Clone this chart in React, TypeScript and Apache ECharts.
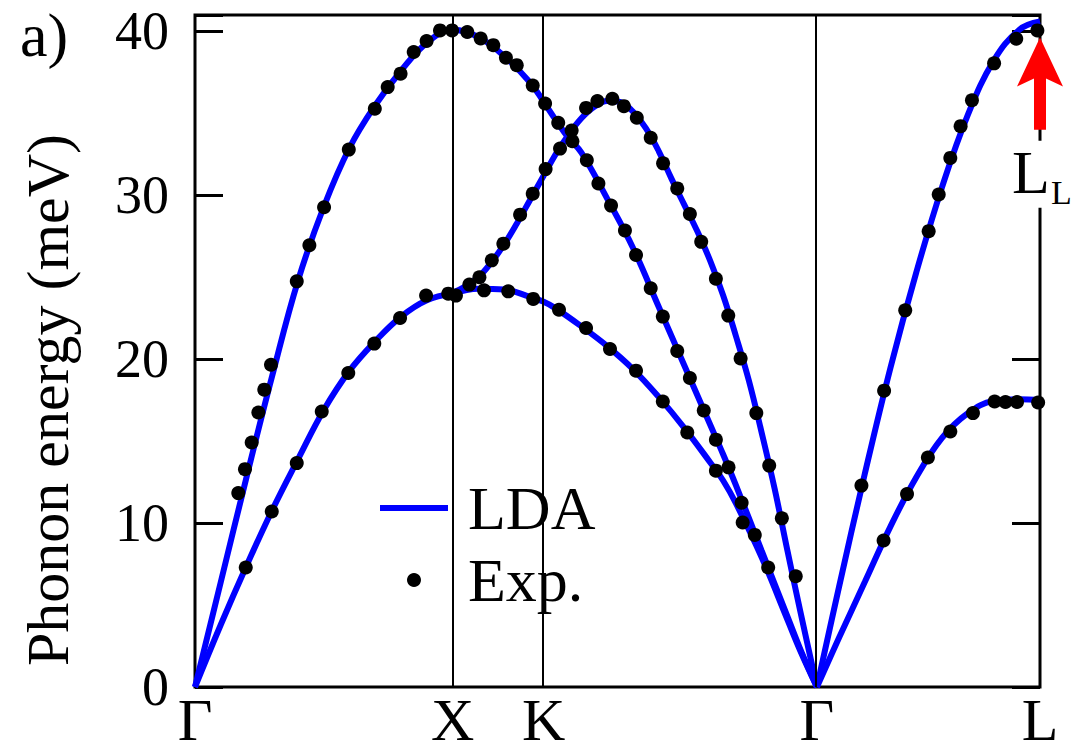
import React, { useEffect, useRef } from "react";
import * as echarts from "echarts";

// High-symmetry points along the path (path length, Γ–X = 1)
const symPoints = [0, 1, 1.3536, 2.4142, 3.2802];
const symLabels = ["Γ", "X", "K", "Γ", "L"];
const yTickValues = [0, 10, 20, 30, 40];

// LDA phonon branches [q, E (meV)]
const ldaLA = [
  [0, 0], [0.1, 6.4], [0.2, 12.8], [0.3, 19.0], [0.4, 24.8], [0.5, 29.3], [0.6, 32.9],
  [0.7, 35.5], [0.8, 37.6], [0.9, 39.3], [1.0, 40.1], [1.1, 39.65], [1.2, 38.5],
  [1.3, 36.9], [1.3536, 35.7], [1.4, 34.6], [1.45, 33.5], [1.5, 32.6], [1.6, 29.8],
  [1.7, 26.8], [1.8, 23.2], [1.9, 19.6], [2.0, 16.0], [2.05, 14.2], [2.1, 12.3],
  [2.2, 8.3], [2.3, 4.3], [2.35, 2.3], [2.4142, 0],
];
const ldaTAGX = [
  [0, 0], [0.1, 3.8], [0.2, 7.4], [0.3, 10.8], [0.4, 13.9], [0.5, 16.9], [0.6, 19.3],
  [0.7, 21.1], [0.8, 22.6], [0.9, 23.6], [1.0, 24.0],
];
const ldaTAUpper = [
  [1.0, 24.05], [1.05, 24.45], [1.1, 25.0], [1.15, 25.9], [1.2, 27.0], [1.25, 28.3],
  [1.3, 29.7], [1.35, 31.1], [1.4, 32.5], [1.45, 33.7], [1.5, 34.7], [1.55, 35.4],
  [1.6, 35.75], [1.65, 35.7], [1.7, 35.1], [1.75, 34.1], [1.8, 32.7], [1.85, 31.0],
  [1.9, 29.4], [1.95, 27.8], [2.0, 26.0], [2.05, 23.9], [2.1, 21.4], [2.15, 18.7],
  [2.2, 15.5], [2.25, 12.1], [2.3, 8.3], [2.35, 4.6], [2.4142, 0],
];
const ldaTALower = [
  [1.0, 24.0], [1.1, 24.3], [1.2, 24.25], [1.3, 23.8], [1.3536, 23.5], [1.4, 23.1],
  [1.5, 22.0], [1.6, 20.8], [1.7, 19.4], [1.8, 17.7], [1.9, 15.8], [2.0, 13.7],
  [2.05, 12.6], [2.1, 11.2], [2.2, 7.9], [2.3, 4.1], [2.35, 2.2], [2.4142, 0],
];
const ldaLAGL = [
  [2.4142, 0], [2.5, 6.1], [2.6, 13.0], [2.7, 19.5], [2.8, 25.3], [2.9, 30.5],
  [3.0, 34.9], [3.1, 38.2], [3.2, 40.1], [3.2802, 40.6],
];
const ldaTAGL = [
  [2.4142, 0], [2.5, 3.0], [2.6, 6.4], [2.7, 9.8], [2.8, 12.8], [2.9, 15.2],
  [3.0, 16.7], [3.1, 17.45], [3.2, 17.55], [3.2802, 17.5],
];

// Experimental points [q, E (meV)]
const expPoints = [
  // Γ–X LA
  [0.168, 11.83], [0.194, 13.29], [0.22, 14.92], [0.246, 16.75], [0.269, 18.14],
  [0.295, 19.66], [0.395, 24.75], [0.444, 26.95], [0.501, 29.27], [0.597, 32.79],
  [0.698, 35.28], [0.748, 36.6], [0.798, 37.42], [0.849, 38.74], [0.899, 39.41],
  [0.951, 40.06], [0.998, 40.06],
  // X–K–Γ upper descending
  [1.057, 39.96], [1.109, 39.57], [1.158, 39.16], [1.207, 38.39], [1.249, 37.94],
  [1.311, 36.7], [1.359, 35.6], [1.41, 34.42], [1.462, 33.95], [1.521, 32.14],
  [1.566, 30.72], [1.615, 29.37], [1.669, 27.85], [1.712, 26.36], [1.769, 24.33],
  [1.816, 22.6], [1.872, 20.5], [1.921, 18.85], [1.975, 16.87], [2.022, 15.09],
  [2.071, 13.4], [2.122, 11.24], [2.126, 10.04], [2.173, 9.28], [2.225, 7.29],
  // X–K–Γ rising branch
  [1.065, 24.55], [1.104, 25.0], [1.152, 26.03], [1.197, 27.05], [1.262, 28.82],
  [1.311, 30.1], [1.361, 31.6], [1.417, 32.85], [1.465, 33.3], [1.518, 35.33],
  [1.562, 35.75], [1.62, 35.89], [1.665, 35.44], [1.715, 34.73], [1.769, 33.51],
  [1.817, 31.95], [1.872, 30.42], [1.921, 28.86], [1.965, 27.16], [2.022, 24.91],
  [2.07, 22.66], [2.118, 20.05], [2.179, 16.71], [2.229, 13.51], [2.278, 10.29],
  [2.332, 6.76],
  // Γ–X–K–Γ transverse
  [0.197, 7.29], [0.298, 10.71], [0.395, 13.66], [0.492, 16.81], [0.595, 19.16],
  [0.696, 20.95], [0.796, 22.51], [0.897, 23.88], [0.983, 24.0], [1.013, 23.88],
  [1.122, 24.2], [1.216, 24.14], [1.313, 23.68], [1.413, 23.02], [1.518, 21.9],
  [1.611, 20.62], [1.712, 19.3], [1.816, 17.42], [1.911, 15.53], [2.022, 13.2],
  // Γ–L LA
  [2.587, 12.29], [2.675, 18.08], [2.757, 22.98], [2.848, 27.81], [2.887, 30.05],
  [2.932, 32.28], [2.972, 34.22], [3.016, 35.8], [3.102, 38.05], [3.188, 39.55],
  [3.27, 40.06],
  // Γ–L TA
  [2.673, 8.94], [2.764, 11.77], [2.845, 14.0], [2.932, 15.59], [3.02, 16.71],
  [3.104, 17.42], [3.146, 17.39], [3.191, 17.39], [3.273, 17.36],
];

// L_L marker arrow (energy range at L, tail -> tip)
const arrowFrom = 34.0;
const arrowTo = 39.63;

const FONT = "'Liberation Serif', 'Times New Roman', serif";
const BLUE = "#0000ff";

export default function App() {
  const ref = useRef<HTMLDivElement>(null);

  useEffect(() => {
    if (!ref.current) return;
    const chart = echarts.init(ref.current, undefined, { renderer: "svg" });

    const ldaBranches = [ldaLA, ldaTAGX, ldaTAUpper, ldaTALower, ldaLAGL, ldaTAGL];
    const L = symPoints[symPoints.length - 1];

    const labelFor = (v: number) => {
      for (let i = 0; i < symPoints.length; i++) {
        if (Math.abs(symPoints[i] - v) < 1e-3) return symLabels[i];
      }
      return "";
    };

    const yAxisCommon = {
      type: "value" as const,
      min: 0,
      max: 41,
      interval: 10,
      axisLine: { show: false },
      splitLine: { show: false },
      axisTick: { inside: true, length: 28, lineStyle: { width: 3, color: "#000" } },
    };

    chart.setOption({
      animation: false,
      backgroundColor: "#fff",
      textStyle: { fontFamily: FONT },
      grid: {
        left: 195,
        right: 32,
        top: 15,
        bottom: 67,
        show: true,
        borderColor: "#000",
        borderWidth: 3,
        backgroundColor: "transparent",
      },
      legend: {
        data: [
          { name: "LDA", icon: "path://M0,0H68V6H0Z" },
          { name: "Exp.", icon: "circle" },
        ],
        orient: "vertical",
        left: 370,
        top: 462,
        padding: [15, 10, 21, 10],
        itemGap: 10,
        itemWidth: 68,
        itemHeight: 14,
        backgroundColor: "#fff",
        selectedMode: false,
        itemStyle: { borderWidth: 0, opacity: 1 },
        textStyle: {
          fontSize: 62,
          fontFamily: FONT,
          color: "#000",
          padding: [0, 0, 0, 15],
        },
      },
      xAxis: {
        type: "value",
        min: 0,
        max: L,
        axisLine: { show: false },
        axisTick: { show: false },
        splitLine: { show: false },
        axisLabel: {
          customValues: symPoints,
          formatter: (v: number) => labelFor(v),
          fontSize: 60,
          lineHeight: 50,
          fontFamily: FONT,
          color: "#000",
          margin: 8,
          showMinLabel: true,
          showMaxLabel: true,
        },
      },
      yAxis: [
        {
          ...yAxisCommon,
          position: "left",
          axisLabel: {
            customValues: yTickValues,
            fontSize: 54,
            fontFamily: FONT,
            color: "#000",
            margin: 26,
            formatter: (v: number) => (v % 10 === 0 ? String(v) : ""),
          },
          name: "Phonon energy (meV)",
          nameLocation: "middle",
          nameGap: 117,
          nameTextStyle: {
            fontSize: 60,
            fontFamily: FONT,
            color: "#000",
            padding: [0, 98, 0, 0],
          },
        },
        {
          ...yAxisCommon,
          position: "right",
          axisLabel: { show: false },
        },
      ],
      series: [
        {
          type: "line",
          data: [],
          z: 1,
          clip: false,
          silent: true,
          markLine: {
            silent: true,
            symbol: "none",
            label: { show: false },
            lineStyle: { color: "#000", width: 2, type: "solid" },
            emphasis: { disabled: true },
            data: symPoints.slice(1, 4).map((x) => ({ xAxis: x })),
          },
        },
        ...ldaBranches.map((d) => ({
          name: "LDA",
          type: "line",
          data: d,
          smooth: 0.4,
          symbol: "none",
          lineStyle: { color: BLUE, width: 6 },
          itemStyle: { color: BLUE },
          z: 3,
          silent: true,
        })),
        {
          name: "Exp.",
          type: "scatter",
          data: expPoints,
          symbol: "circle",
          symbolSize: 14,
          itemStyle: { color: "#000", opacity: 1 },
          z: 5,
          silent: true,
        },
      ],
    });

    // Annotation at L: red arrow and L_L label, placed via the chart's own scales
    const tip = chart.convertToPixel({ gridIndex: 0 }, [L, arrowTo]) as number[];
    const tail = chart.convertToPixel({ gridIndex: 0 }, [L, arrowFrom]) as number[];
    const tx = tip[0];
    const ty = tip[1];
    const by = tail[1];
    const labelTop = by + 11;

    chart.setOption({
      graphic: [
        {
          type: "text",
          left: 20,
          top: 4,
          z: 100,
          style: { text: "a)", fontSize: 62, fontFamily: FONT, fill: "#000" },
        },
        {
          type: "polygon",
          z: 90,
          shape: {
            points: [
              [tx, ty],
              [tx + 23, ty + 49],
              [tx + 6, ty + 41],
              [tx + 6, by],
              [tx - 6, by],
              [tx - 6, ty + 41],
              [tx - 23, ty + 49],
            ],
          },
          style: { fill: "#ff0000" },
        },
        {
          type: "rect",
          z: 95,
          shape: { x: tx - 30, y: labelTop, width: 62, height: 67 },
          style: { fill: "#fff" },
        },
        {
          type: "text",
          z: 100,
          x: tx - 28,
          y: labelTop + 31,
          style: {
            text: "L",
            fontSize: 62,
            fontFamily: FONT,
            fill: "#000",
            verticalAlign: "middle",
          },
        },
        {
          type: "text",
          z: 100,
          x: tx + 11,
          y: labelTop + 52,
          style: {
            text: "L",
            fontSize: 34,
            fontFamily: FONT,
            fill: "#000",
            verticalAlign: "middle",
          },
        },
      ],
    });

    return () => chart.dispose();
  }, []);

  return (
    <div
      ref={ref}
      style={{ position: "fixed", left: 0, top: 0, width: 1072, height: 754, background: "#fff" }}
    />
  );
}
